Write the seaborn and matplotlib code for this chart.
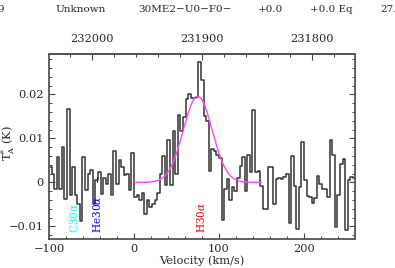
import numpy as np
import pandas as pd
import seaborn as sns
import matplotlib.pyplot as plt
from matplotlib.ticker import MultipleLocator

# spectrum: channel width and first channel edge (km/s)
chan_width = 3.03
first_edge = -100.0

t_neg = [0.0034, 0.0020, -0.0014, 0.0057, -0.0015, 0.0080, -0.0038, 0.0168,
         -0.0029, 0.0036, -0.0029, -0.0048, -0.0088, 0.0058, -0.0017, 0.0020,
         0.0028, -0.0048, 0.0005, 0.0023, -0.0027, 0.0011, -0.0004, 0.0020,
         -0.0029, 0.0072, -0.0004, 0.0051, 0.0034, 0.0017, 0.0020, -0.0017,
         0.0066]
t_line = [-0.0033, -0.0029, -0.0040, -0.0025, -0.0072, -0.0040, -0.0055,
          -0.0048, -0.0040, -0.0025, 0.0020, 0.0060, -0.0006, 0.0096, -0.0006,
          0.0117, 0.0018, 0.0153, 0.0118, 0.0148, 0.0190, 0.0200, 0.0193,
          0.0193, 0.0195, 0.0274]
t_pos = [0.0234, 0.0150, 0.0140, 0.0026, 0.0075, 0.0072, 0.0062, 0.0055,
         -0.0086, -0.0016, 0.0007, -0.0039, -0.0010, -0.0019, 0.0009, 0.0037,
         0.0058, -0.0019, 0.0062, 0.0024, 0.0164, 0.0024, 0.0026, -0.0008,
         -0.0061, -0.0061, 0.0034, 0.0034, -0.0048, 0.0007, 0.0011, 0.0007,
         0.0012, 0.0020, -0.0093, 0.0060, -0.0008, -0.0105, -0.0010, 0.0091,
         0.0005, -0.0031, -0.0033, -0.0046, -0.0036, 0.0014, -0.0004, -0.0016,
         -0.0016, -0.0033, 0.0096, 0.0062, -0.0101, -0.0029, 0.0042, 0.0054,
         -0.0108, 0.0005, 0.0013, 0.0010]

# gaussian fit (CLASS style: peak, position, width)
fit_peak = 0.0196
fit_pos = 75.0
fit_fwhm = 40.0
fit_vmin, fit_vmax = 0.0, 150.0

# frequency axis
rest_freq = 231962.1  # MHz at v = 0
c_kms = 299792.458
freq_ticks = [232000, 231900, 231800]

line_names = ["C30$\\alpha$", "He30$\\alpha$", "H30$\\alpha$"]
line_freqs = [232016.6, 231995.43, 231900.93]
line_colors = ["cyan", "blue", "red"]

header = ["9", "Unknown", "30ME2\u2212U0\u2212F0\u2212", "+0.0", "+0.0 Eq", "27."]
header_x = [-3, 55, 138, 258, 310, 380]


def v2f(v):
    return rest_freq * (1 - np.asarray(v) / c_kms)


def f2v(f):
    return c_kms * (1 - np.asarray(f) / rest_freq)


temps = t_neg + t_line + t_pos
edges = first_edge + chan_width * np.arange(len(temps) + 1)
spec = pd.DataFrame({"v": edges, "T": temps + [temps[-1]]})

v_fit = np.linspace(fit_vmin, fit_vmax, 300)
t_fit = fit_peak * np.exp(-4 * np.log(2) * ((v_fit - fit_pos) / fit_fwhm) ** 2)
fit = pd.DataFrame({"v": v_fit, "T": t_fit})

sns.set_style("ticks")
plt.rcParams["font.family"] = ["DejaVu Serif"]
plt.rcParams["mathtext.fontset"] = "dejavuserif"

W, H = 395, 268
fs = 8.2
fig = plt.figure(figsize=(W / 100, H / 100), dpi=100)
ax = fig.add_axes([49 / W, 1 - 238.7 / H, (355 - 49) / W, (238.7 - 54) / H])

sns.lineplot(data=spec, x="v", y="T", ax=ax, drawstyle="steps-post",
             estimator=None, sort=False, color="#333333", lw=1.1)
sns.lineplot(data=fit, x="v", y="T", ax=ax, estimator=None, sort=False,
             color="#ff44ff", lw=1.0)

for name, f, col in zip(line_names, line_freqs, line_colors):
    v = f2v(f)
    ax.text(v, -0.0115, name, rotation=90, ha="center", va="bottom",
            color=col, fontsize=7.6)
ax.plot([f2v(line_freqs[1])] * 2, [0.0, 0.0009], color="blue", lw=0.8)

ax.set_xlim(-100, 260)
ax.set_ylim(-0.0128, 0.0292)
ax.xaxis.set_major_locator(MultipleLocator(100))
ax.xaxis.set_minor_locator(MultipleLocator(20))
ax.yaxis.set_major_locator(MultipleLocator(0.01))
ax.yaxis.set_minor_locator(MultipleLocator(0.002))
ax.yaxis.set_major_formatter(plt.FuncFormatter(lambda y, p: "0" if abs(y) < 1e-9 else f"{y:g}".replace("-", "\u2212")))
ax.xaxis.set_major_formatter(plt.FuncFormatter(lambda x, p: f"{x:.0f}".replace("-", "\u2212")))
ax.tick_params(which="both", direction="in", top=False, right=True,
               labelsize=fs, color="#444444")
ax.tick_params(which="major", length=4, width=0.8)
ax.tick_params(which="minor", length=2, width=0.7)
ax.tick_params(axis="y", pad=4)
ax.tick_params(axis="x", pad=4)
for s in ax.spines.values():
    s.set_color("#555555")
    s.set_linewidth(1.3)

sec = ax.secondary_xaxis("top", functions=(v2f, f2v))
sec.set_xticks(freq_ticks)
sec.xaxis.set_minor_locator(MultipleLocator(20))
sec.xaxis.set_major_formatter(plt.FuncFormatter(lambda x, p: f"{x:.0f}"))
sec.tick_params(which="both", direction="in", labelsize=fs, color="#444444", pad=7)
sec.tick_params(which="major", length=4, width=0.8)
sec.tick_params(which="minor", length=2, width=0.7)
sec.spines["top"].set_color("#555555")
sec.spines["top"].set_linewidth(1.3)

ax.set_xlabel("Velocity (km/s)", fontsize=fs, labelpad=1)
ax.set_ylabel("T$^{*}_{\\rm A}$ (K)", fontsize=fs)
ax.yaxis.set_label_coords((17 - 49) / (355 - 49), 0.52)

for txt, x in zip(header, header_x):
    fig.text(x / W, 1 - 10 / H, txt, fontsize=7.5, ha="left", va="center")

fig.savefig("out.png", dpi=100)
